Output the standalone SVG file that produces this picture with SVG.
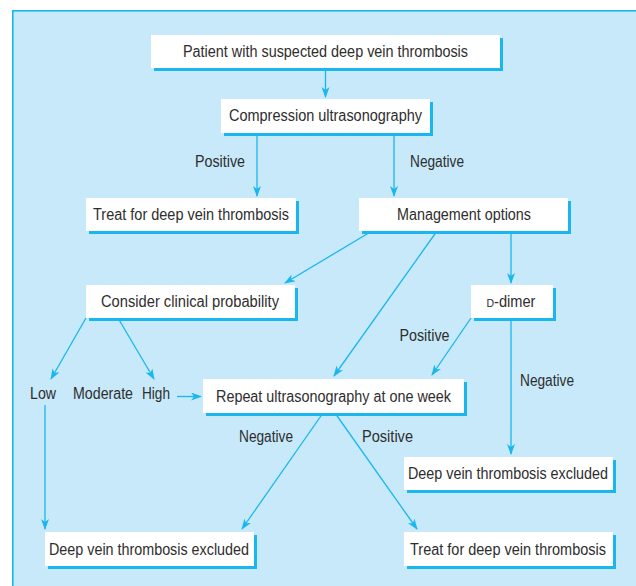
<svg xmlns="http://www.w3.org/2000/svg" width="636" height="586" viewBox="0 0 636 586">
<defs>
<style>
.bg{fill:#c7e9f9;stroke:#1ab7ee;stroke-width:1.6}
.sh{fill:#1ab7ee}
.bx{fill:#ffffff}
text{font-family:"Liberation Sans Narrow","Liberation Sans",Arial,sans-serif;font-size:16px;fill:#2e2e2e;text-anchor:middle}
.c line{stroke:#1ab7ee;stroke-width:1.3;fill:none;marker-end:url(#ah)}
</style>
<marker id="ah" markerWidth="12" markerHeight="10" refX="10" refY="4" orient="auto" markerUnits="userSpaceOnUse">
<path d="M0,0 L11,4 L0,8 L3,4 z" fill="#1ab7ee"/>
</marker>
</defs>
<rect x="0" y="0" width="636" height="586" fill="#ffffff"/>
<rect class="bg" x="12.8" y="10.8" width="640" height="600"/>

<g class="c" id="connectors">
<line x1="325.5" y1="68" x2="325.5" y2="97"/>
<line x1="257" y1="133" x2="257" y2="196"/>
<line x1="394" y1="133" x2="394" y2="196"/>
<line x1="372" y1="231" x2="285" y2="283"/>
<line x1="437" y1="231" x2="334" y2="376"/>
<line x1="511" y1="231" x2="511" y2="283"/>
<line x1="86" y1="318" x2="51" y2="379"/>
<line x1="118" y1="318" x2="154" y2="379"/>
<line x1="177" y1="396.5" x2="201" y2="396.5"/>
<line x1="471" y1="318" x2="432" y2="375"/>
<line x1="511" y1="318" x2="511" y2="454"/>
<line x1="45" y1="405" x2="45" y2="529"/>
<line x1="323" y1="413" x2="242" y2="529"/>
<line x1="335" y1="413" x2="417" y2="529"/>
</g>

<g id="n-patient"><rect class="sh" x="154" y="38" width="349" height="33"/><rect class="bx" x="151" y="35" width="349" height="33"/><text x="325.5" y="57" textLength="285" lengthAdjust="spacingAndGlyphs">Patient with suspected deep vein thrombosis</text></g>
<g id="n-compression"><rect class="sh" x="224" y="102" width="209" height="34"/><rect class="bx" x="221" y="99" width="209" height="34"/><text x="325.5" y="121" textLength="193" lengthAdjust="spacingAndGlyphs">Compression ultrasonography</text></g>
<g id="n-treat1"><rect class="sh" x="89" y="201" width="210" height="33"/><rect class="bx" x="86" y="198" width="210" height="33"/><text x="191" y="219.5" textLength="196" lengthAdjust="spacingAndGlyphs">Treat for deep vein thrombosis</text></g>
<g id="n-management"><rect class="sh" x="362" y="201" width="209" height="33"/><rect class="bx" x="359" y="198" width="209" height="33"/><text x="464" y="219.5" textLength="134" lengthAdjust="spacingAndGlyphs">Management options</text></g>
<g id="n-consider"><rect class="sh" x="89" y="288" width="209" height="33"/><rect class="bx" x="86" y="285" width="209" height="33"/><text x="190" y="307" textLength="178" lengthAdjust="spacingAndGlyphs">Consider clinical probability</text></g>
<g id="n-ddimer"><rect class="sh" x="474" y="288" width="82" height="33"/><rect class="bx" x="471" y="285" width="82" height="33"/><text x="511" y="307" textLength="49" lengthAdjust="spacingAndGlyphs"><tspan font-size="11.5">D</tspan>-dimer</text></g>
<g id="n-repeat"><rect class="sh" x="206" y="382" width="261" height="34"/><rect class="bx" x="203" y="379" width="261" height="34"/><text x="333.5" y="402" textLength="235" lengthAdjust="spacingAndGlyphs">Repeat ultrasonography at one week</text></g>
<g id="n-excluded1"><rect class="sh" x="407" y="460" width="209" height="33"/><rect class="bx" x="404" y="457" width="209" height="33"/><text x="508" y="479" textLength="200" lengthAdjust="spacingAndGlyphs">Deep vein thrombosis excluded</text></g>
<g id="n-excluded2"><rect class="sh" x="48" y="535" width="209" height="34"/><rect class="bx" x="45" y="532" width="209" height="34"/><text x="149" y="555" textLength="200" lengthAdjust="spacingAndGlyphs">Deep vein thrombosis excluded</text></g>
<g id="n-treat2"><rect class="sh" x="407" y="535" width="209" height="34"/><rect class="bx" x="404" y="532" width="209" height="34"/><text x="508" y="555" textLength="196" lengthAdjust="spacingAndGlyphs">Treat for deep vein thrombosis</text></g>

<g id="labels">
<text x="220" y="167" textLength="50" lengthAdjust="spacingAndGlyphs">Positive</text>
<text x="437" y="167" textLength="54" lengthAdjust="spacingAndGlyphs">Negative</text>
<text x="424.5" y="341" textLength="50" lengthAdjust="spacingAndGlyphs">Positive</text>
<text x="547" y="386" textLength="54" lengthAdjust="spacingAndGlyphs">Negative</text>
<text x="43" y="399" textLength="26" lengthAdjust="spacingAndGlyphs">Low</text>
<text x="103" y="399" textLength="60" lengthAdjust="spacingAndGlyphs">Moderate</text>
<text x="156" y="399" textLength="28" lengthAdjust="spacingAndGlyphs">High</text>
<text x="266" y="442" textLength="54" lengthAdjust="spacingAndGlyphs">Negative</text>
<text x="387.5" y="442" textLength="51" lengthAdjust="spacingAndGlyphs">Positive</text>
</g>
</svg>
